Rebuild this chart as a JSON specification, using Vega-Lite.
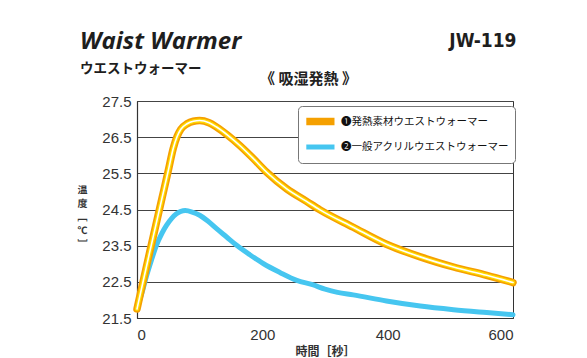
{
  "$schema": "https://vega.github.io/schema/vega-lite/v6.json",
  "width": 376,
  "height": 217,
  "autosize": {"type": "none"},
  "padding": {"left": 137, "top": 101, "right": 74, "bottom": 40},
  "background": "white",
  "title": {
    "text": "Waist Warmer",
    "subtitle": "ウエストウォーマー",
    "anchor": "start",
    "frame": "group",
    "dx": -57,
    "offset": -44,
    "font": "Open Sans",
    "fontSize": 24,
    "fontWeight": "bold",
    "fontStyle": "italic",
    "color": "#1e1e1e",
    "subtitleFont": "Noto Sans CJK JP",
    "subtitleFontSize": 13.5,
    "subtitleFontWeight": "bold",
    "subtitleColor": "#1e1e1e",
    "subtitlePadding": 8
  },
  "config": {
    "view": {"stroke": "#333", "strokeWidth": 1}
  },
  "data": {
    "values": [
      {"series": "❷一般アクリルウエストウォーマー", "t": 0, "v": 21.75},
      {"series": "❷一般アクリルウエストウォーマー", "t": 8, "v": 22.2},
      {"series": "❷一般アクリルウエストウォーマー", "t": 15.5, "v": 22.68},
      {"series": "❷一般アクリルウエストウォーマー", "t": 23, "v": 23.1},
      {"series": "❷一般アクリルウエストウォーマー", "t": 31, "v": 23.51},
      {"series": "❷一般アクリルウエストウォーマー", "t": 40, "v": 23.85},
      {"series": "❷一般アクリルウエストウォーマー", "t": 47, "v": 24.06},
      {"series": "❷一般アクリルウエストウォーマー", "t": 55, "v": 24.25},
      {"series": "❷一般アクリルウエストウォーマー", "t": 63, "v": 24.38},
      {"series": "❷一般アクリルウエストウォーマー", "t": 70, "v": 24.45},
      {"series": "❷一般アクリルウエストウォーマー", "t": 77, "v": 24.47},
      {"series": "❷一般アクリルウエストウォーマー", "t": 88, "v": 24.43},
      {"series": "❷一般アクリルウエストウォーマー", "t": 100, "v": 24.34},
      {"series": "❷一般アクリルウエストウォーマー", "t": 113, "v": 24.18},
      {"series": "❷一般アクリルウエストウォーマー", "t": 127, "v": 23.97},
      {"series": "❷一般アクリルウエストウォーマー", "t": 143, "v": 23.74},
      {"series": "❷一般アクリルウエストウォーマー", "t": 159, "v": 23.51},
      {"series": "❷一般アクリルウエストウォーマー", "t": 180, "v": 23.25},
      {"series": "❷一般アクリルウエストウォーマー", "t": 202, "v": 23.0},
      {"series": "❷一般アクリルウエストウォーマー", "t": 228, "v": 22.76},
      {"series": "❷一般アクリルウエストウォーマー", "t": 255, "v": 22.54},
      {"series": "❷一般アクリルウエストウォーマー", "t": 280, "v": 22.42},
      {"series": "❷一般アクリルウエストウォーマー", "t": 300, "v": 22.3},
      {"series": "❷一般アクリルウエストウォーマー", "t": 320, "v": 22.21},
      {"series": "❷一般アクリルウエストウォーマー", "t": 345, "v": 22.14},
      {"series": "❷一般アクリルウエストウォーマー", "t": 398, "v": 21.97},
      {"series": "❷一般アクリルウエストウォーマー", "t": 452, "v": 21.83},
      {"series": "❷一般アクリルウエストウォーマー", "t": 505, "v": 21.73},
      {"series": "❷一般アクリルウエストウォーマー", "t": 558, "v": 21.65},
      {"series": "❷一般アクリルウエストウォーマー", "t": 600, "v": 21.59},
      {"series": "❶発熱素材ウエストウォーマー", "t": 0, "v": 21.75},
      {"series": "❶発熱素材ウエストウォーマー", "t": 10, "v": 22.53},
      {"series": "❶発熱素材ウエストウォーマー", "t": 20, "v": 23.3},
      {"series": "❶発熱素材ウエストウォーマー", "t": 30, "v": 24.06},
      {"series": "❶発熱素材ウエストウォーマー", "t": 40, "v": 24.82},
      {"series": "❶発熱素材ウエストウォーマー", "t": 50, "v": 25.58},
      {"series": "❶発熱素材ウエストウォーマー", "t": 58, "v": 26.2},
      {"series": "❶発熱素材ウエストウォーマー", "t": 64, "v": 26.52},
      {"series": "❶発熱素材ウエストウォーマー", "t": 70, "v": 26.72},
      {"series": "❶発熱素材ウエストウォーマー", "t": 80, "v": 26.87},
      {"series": "❶発熱素材ウエストウォーマー", "t": 90, "v": 26.94},
      {"series": "❶発熱素材ウエストウォーマー", "t": 100, "v": 26.96},
      {"series": "❶発熱素材ウエストウォーマー", "t": 115, "v": 26.9},
      {"series": "❶発熱素材ウエストウォーマー", "t": 127, "v": 26.78},
      {"series": "❶発熱素材ウエストウォーマー", "t": 145, "v": 26.55},
      {"series": "❶発熱素材ウエストウォーマー", "t": 164, "v": 26.27},
      {"series": "❶発熱素材ウエストウォーマー", "t": 185, "v": 25.92},
      {"series": "❶発熱素材ウエストウォーマー", "t": 207, "v": 25.53},
      {"series": "❶発熱素材ウエストウォーマー", "t": 239, "v": 25.07},
      {"series": "❶発熱素材ウエストウォーマー", "t": 270, "v": 24.73},
      {"series": "❶発熱素材ウエストウォーマー", "t": 292, "v": 24.49},
      {"series": "❶発熱素材ウエストウォーマー", "t": 345, "v": 24.01},
      {"series": "❶発熱素材ウエストウォーマー", "t": 398, "v": 23.54},
      {"series": "❶発熱素材ウエストウォーマー", "t": 452, "v": 23.19},
      {"series": "❶発熱素材ウエストウォーマー", "t": 505, "v": 22.91},
      {"series": "❶発熱素材ウエストウォーマー", "t": 558, "v": 22.68},
      {"series": "❶発熱素材ウエストウォーマー", "t": 600, "v": 22.48}
    ]
  },
  "layer": [
    {
      "mark": {"type": "line", "interpolate": "monotone", "strokeCap": "round", "strokeJoin": "round"},
      "encoding": {
        "x": {
          "field": "t", "type": "quantitative",
          "scale": {"domain": [0, 600], "nice": false},
          "axis": {
            "orient": "bottom",
            "values": [0, 200, 400, 600],
            "ticks": false,
            "grid": false,
            "domainColor": "#333",
            "domainWidth": 1.2,
            "labelFont": "Liberation Sans",
            "labelFontSize": 15,
            "labelColor": "#333",
            "labelPadding": 9,
            "title": "時間［秒］",
            "titleFont": "Noto Sans CJK JP",
            "titleFontSize": 12,
            "titleFontWeight": "bold",
            "titleColor": "#333",
            "titlePadding": 4
          }
        },
        "y": {
          "field": "v", "type": "quantitative",
          "scale": {"domain": [21.5, 27.5], "nice": false, "zero": false},
          "axis": {
            "orient": "left",
            "values": [21.5, 22.5, 23.5, 24.5, 25.5, 26.5, 27.5],
            "format": ".1f",
            "ticks": false,
            "grid": true,
            "gridColor": "#444",
            "gridWidth": 1,
            "gridOpacity": 1,
            "domainColor": "#333",
            "domainWidth": 1.2,
            "labelFont": "Liberation Sans",
            "labelFontSize": 15,
            "labelColor": "#333",
            "labelPadding": 6,
            "title": ["温", "度", "﹇", "℃", "﹈"],
            "titleAngle": 0.1,
            "titleFont": "Noto Sans CJK JP",
            "titleFontSize": 10,
            "titleFontWeight": "bold",
            "titleColor": "#333",
            "titleLineHeight": 13.5,
            "titleAlign": "center",
            "titleBaseline": "top",
            "titleX": -55,
            "titleY": 84
          }
        },
        "color": {
          "field": "series", "type": "nominal",
          "scale": {
            "domain": ["❶発熱素材ウエストウォーマー", "❷一般アクリルウエストウォーマー"],
            "range": ["#F5A000", "#46C6F0"]
          },
          "legend": {
            "orient": "none",
            "legendX": 161,
            "legendY": 5,
            "title": null,
            "fillColor": "white",
            "strokeColor": "#777",
            "cornerRadius": 4,
            "padding": 5.5,
            "symbolType": "M-1.2,0H3.5",
            "symbolSize": 144,
            "symbolStrokeWidth": 5,
            "rowPadding": 0,
            "labelFont": "Noto Sans CJK JP",
            "labelFontSize": 10.5,
            "labelColor": "#111",
            "labelOffset": 17.5,
            "labelLimit": 300
          }
        },
        "strokeWidth": {
          "field": "series", "type": "nominal",
          "scale": {
            "domain": ["❶発熱素材ウエストウォーマー", "❷一般アクリルウエストウォーマー"],
            "range": [7.5, 5]
          },
          "legend": null
        }
      }
    },
    {
      "transform": [{"filter": {"field": "series", "equal": "❶発熱素材ウエストウォーマー"}}],
      "mark": {"type": "line", "interpolate": "monotone", "color": "#FFD800", "strokeWidth": 4.2, "strokeCap": "round", "strokeJoin": "round"},
      "encoding": {
        "x": {
          "field": "t", "type": "quantitative",
          "axis": {
            "orient": "top",
            "labels": false, "ticks": false, "domain": false, "grid": false,
            "title": "《 吸湿発熱 》",
            "titleFont": "Noto Sans CJK JP",
            "titleFontSize": 15,
            "titleFontWeight": "bold",
            "titleColor": "#222",
            "titleAlign": "center",
            "titleBaseline": "middle",
            "titleX": 171,
            "titleY": -23
          }
        },
        "y": {
          "field": "v", "type": "quantitative",
          "axis": {
            "orient": "right",
            "labels": false, "ticks": false, "domain": false, "grid": false,
            "title": "JW-119",
            "titleAngle": 360,
            "titleFont": "DejaVu Sans Condensed, Liberation Sans Narrow, Roboto, sans-serif",
            "titleFontSize": 19,
            "titleFontWeight": "bold",
            "titleColor": "#1e1e1e",
            "titleAlign": "right",
            "titleBaseline": "alphabetic",
            "titleX": 3,
            "titleY": -55
          }
        }
      }
    },
    {
      "transform": [{"filter": {"field": "series", "equal": "❶発熱素材ウエストウォーマー"}}],
      "mark": {"type": "line", "interpolate": "monotone", "color": "#FFFFFF", "strokeWidth": 1.6, "strokeCap": "round", "strokeJoin": "round"},
      "encoding": {
        "x": {"field": "t", "type": "quantitative", "axis": null},
        "y": {"field": "v", "type": "quantitative", "axis": null}
      }
    }
  ],
  "resolve": {"axis": {"x": "independent", "y": "independent"}}
}
